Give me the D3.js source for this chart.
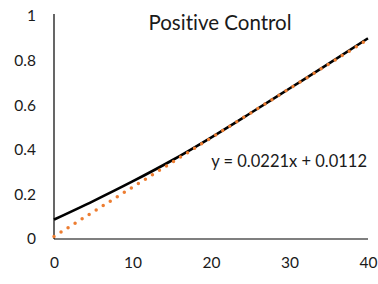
<!DOCTYPE html>
<html>
<head>
<meta charset="utf-8">
<script src="https://cdn.jsdelivr.net/npm/d3@7"></script>
<style>
  html, body { margin: 0; padding: 0; background: #fff; }
  svg { display: block; font-family: Lato, "Open Sans", sans-serif; font-variant-ligatures: none; }
</style>
</head>
<body>
<svg id="chart" width="378" height="284"></svg>
<script>
const title = "Positive Control";
const xValues = [0, 5, 10, 15, 20, 25, 30, 35, 40];
const yValues = [0.087, 0.170, 0.258, 0.352, 0.455, 0.564, 0.675, 0.786, 0.900];
const trendSlope = 0.0221;
const trendIntercept = 0.0112;
const trendLabel = "y = 0.0221x + 0.0112";
const xTicks = [0, 10, 20, 30, 40];
const yTicks = [0, 0.2, 0.4, 0.6, 0.8, 1];

const svg = d3.select("#chart");
const x = d3.scaleLinear().domain([0, 40]).range([54, 368]);
const y = d3.scaleLinear().domain([0, 1]).range([239, 16]);

// axes
const yAxis = d3.axisLeft(y).tickValues(yTicks).tickSize(0).tickPadding(18)
  .tickFormat(d => d3.format("~g")(d));
const gy = svg.append("g").attr("transform", "translate(54,0)").call(yAxis);
gy.select(".domain").attr("stroke", "#000").attr("stroke-width", 1.2).attr("d", "M0,14V239");
gy.selectAll("text").attr("font-size", 15.5).attr("fill", "#1a1a1a").attr("font-family", "Lato, sans-serif");

const xAxis = d3.axisBottom(x).tickValues(xTicks).tickSize(0).tickPadding(18)
  .tickFormat(d3.format("d"));
const gx = svg.append("g").attr("transform", "translate(0,239)").call(xAxis);
gx.select(".domain").attr("stroke", "#000").attr("stroke-width", 1.2).attr("d", "M54,0H368");
gx.selectAll("text").attr("font-size", 15.5).attr("fill", "#1a1a1a").attr("font-family", "Lato, sans-serif");

// data line
const line = d3.line().x((d, i) => x(xValues[i])).y(d => y(d)).curve(d3.curveMonotoneX);
svg.append("path").datum(yValues)
  .attr("d", line)
  .attr("fill", "none").attr("stroke", "#000").attr("stroke-width", 2.6);

// trend line
const tx = [0, 40];
svg.append("path").datum(tx)
  .attr("d", d3.line().x(d => x(d)).y(d => y(trendSlope * d + trendIntercept)))
  .attr("fill", "none").attr("stroke", "#ED7D31").attr("stroke-width", 3.5)
  .attr("stroke-linecap", "round").attr("stroke-dasharray", "0 8.3");

// title
svg.append("text").attr("x", 220).attr("y", 30).attr("text-anchor", "middle")
  .attr("font-size", 20.5).attr("fill", "#1a1a1a").text(title);

// equation
svg.append("text").attr("x", 367).attr("y", 167).attr("text-anchor", "end")
  .attr("font-size", 16.5).attr("fill", "#1a1a1a").text(trendLabel);
</script>
</body>
</html>
